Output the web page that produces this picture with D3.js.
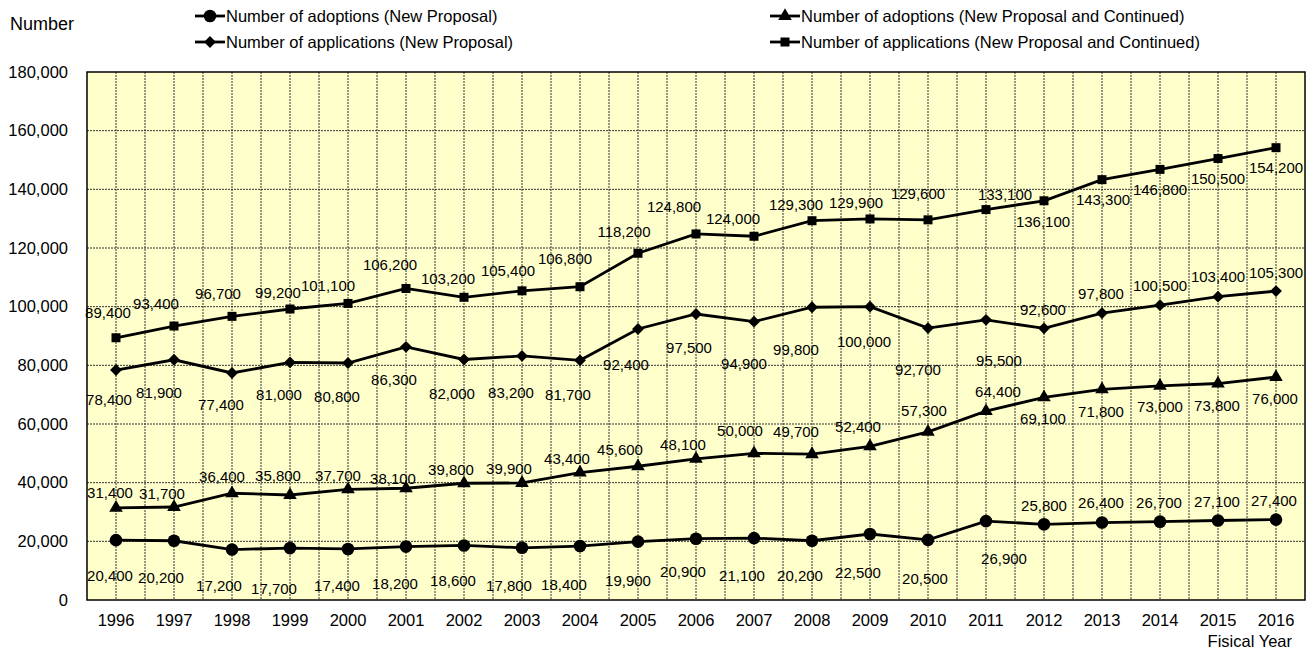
<!DOCTYPE html>
<html>
<head>
<meta charset="utf-8">
<script src="https://cdn.jsdelivr.net/npm/d3@7"></script>
<style>
  body { margin: 0; background: #fff; }
  svg { display: block; font-family: "Liberation Sans", Arial, sans-serif; }
  .grid line { stroke: #333; stroke-width: 1; stroke-dasharray: 2,1; }
  .axis text { font-size: 16.5px; fill: #000; }
  .label { font-size: 15px; fill: #000; }
</style>
</head>
<body>
<div id="chart"></div>
<script>
const years = ['1996', '1997', '1998', '1999', '2000', '2001', '2002', '2003', '2004', '2005', '2006',
  '2007', '2008', '2009', '2010', '2011', '2012', '2013', '2014', '2015', '2016'];

const adoptionsNew = [20400, 20200, 17200, 17700, 17400, 18200, 18600, 17800, 18400, 19900, 20900,
  21100, 20200, 22500, 20500, 26900, 25800, 26400, 26700, 27100, 27400];
const adoptionsAll = [31400, 31700, 36400, 35800, 37700, 38100, 39800, 39900, 43400, 45600, 48100,
  50000, 49700, 52400, 57300, 64400, 69100, 71800, 73000, 73800, 76000];
const applicationsNew = [78400, 81900, 77400, 81000, 80800, 86300, 82000, 83200, 81700, 92400, 97500,
  94900, 99800, 100000, 92700, 95500, 92600, 97800, 100500, 103400, 105300];
const applicationsAll = [89400, 93400, 96700, 99200, 101100, 106200, 103200, 105400, 106800, 118200, 124800,
  124000, 129300, 129900, 129600, 133100, 136100, 143300, 146800, 150500, 154200];

const yTicks = [0, 20000, 40000, 60000, 80000, 100000, 120000, 140000, 160000, 180000];

// label offsets from each marker [dx, dy], placed by hand like the original
const offsetsAdoptionsNew = [[-6,35],[-13,37],[-13,36],[-16,40],[-11,37],[-11,37],[-11,35],[-13,38],[-16,38],[-10,39],[-13,33],
  [-12,37],[-12,35],[-12,38],[-3,39],[18,37],[0,-19],[-1,-20],[-1,-19],[-1,-19],[-2,-19]];
const offsetsAdoptionsAll = [[-6,-15],[-12,-14],[-10,-17],[-12,-19],[-10,-14],[-13,-10],[-13,-14],[-13,-14],[-13,-14],[-18,-17],[-13,-14],
  [-14,-23],[-16,-23],[-12,-20],[-4,-21],[12,-20],[-1,21],[-1,22],[0,21],[-1,22],[-1,21]];
const offsetsApplicationsNew = [[-7,29],[-15,33],[-11,32],[-11,32],[-11,34],[-12,33],[-12,34],[-11,37],[-12,34],[-12,36],[-7,33],
  [-10,42],[-16,42],[-6,35],[-10,41],[13,41],[-1,-19],[-1,-20],[0,-20],[0,-20],[0,-19]];
const offsetsApplicationsAll = [[-8,-25],[-18,-23],[-14,-23],[-12,-17],[-20,-18],[-16,-24],[-16,-19],[-14,-20],[-15,-28],[-14,-22],[-22,-27],
  [-21,-18],[-16,-16],[-14,-16],[-10,-26],[19,-15],[-1,21],[1,20],[0,20],[0,20],[0,20]];

const series = [
  { name: 'Number of adoptions (New Proposal)', values: adoptionsNew, offsets: offsetsAdoptionsNew, symbol: 'circle' },
  { name: 'Number of adoptions (New Proposal and Continued)', values: adoptionsAll, offsets: offsetsAdoptionsAll, symbol: 'triangle' },
  { name: 'Number of applications (New Proposal)', values: applicationsNew, offsets: offsetsApplicationsNew, symbol: 'diamond' },
  { name: 'Number of applications (New Proposal and Continued)', values: applicationsAll, offsets: offsetsApplicationsAll, symbol: 'square' }
];

const width = 1311, height = 652;
const plot = { left: 87, right: 1305, top: 72, bottom: 600 };

const svg = d3.select('#chart').append('svg')
  .attr('width', width)
  .attr('height', height);

const xScale = d3.scaleBand().domain(years).range([plot.left, plot.right]).padding(0);
const yScale = d3.scaleLinear().domain([0, 180000]).range([plot.bottom, plot.top]);
const xMid = d => xScale(d) + xScale.bandwidth() / 2;

function markerPath(kind) {
  if (kind === 'circle') return d3.symbol(d3.symbolCircle, 125)();
  if (kind === 'triangle') return d3.symbol(d3.symbolTriangle, 80)();
  if (kind === 'square') return d3.symbol(d3.symbolSquare, 81)();
  return d3.symbol(d3.symbolSquare, 70)();
}
const markerRotate = kind => kind === 'diamond' ? ' rotate(45)' : '';

// plot background
svg.append('rect')
  .attr('x', plot.left).attr('y', plot.top)
  .attr('width', plot.right - plot.left).attr('height', plot.bottom - plot.top)
  .attr('fill', '#ffffcc');

// vertical grid at band edges and band centres
const vLines = [];
years.forEach(y => { vLines.push(xScale(y)); vLines.push(xMid(y)); });
svg.append('g').attr('class', 'grid')
  .selectAll('line').data(vLines.slice(1)).join('line')
  .attr('x1', d => d).attr('x2', d => d)
  .attr('y1', plot.top).attr('y2', plot.bottom);

svg.append('g').attr('class', 'grid')
  .selectAll('line').data(yTicks.slice(1, -1)).join('line')
  .attr('x1', plot.left).attr('x2', plot.right)
  .attr('y1', d => yScale(d)).attr('y2', d => yScale(d));

svg.append('rect')
  .attr('x', plot.left).attr('y', plot.top)
  .attr('width', plot.right - plot.left).attr('height', plot.bottom - plot.top)
  .attr('fill', 'none').attr('stroke', '#000').attr('stroke-width', 1.5);

// axes
const yAxis = svg.append('g').attr('class', 'axis')
  .attr('transform', `translate(${plot.left},0)`)
  .call(d3.axisLeft(yScale).tickValues(yTicks).tickSize(0).tickPadding(19).tickFormat(d3.format(',')));
yAxis.select('.domain').remove();

const xAxis = svg.append('g').attr('class', 'axis')
  .attr('transform', `translate(0,${plot.bottom})`)
  .call(d3.axisBottom(xScale).tickSize(0).tickPadding(14));
xAxis.select('.domain').remove();

svg.append('text').attr('x', 10).attr('y', 30)
  .style('font-size', '18px').text('Number');
svg.append('text').attr('x', 1292).attr('y', 647)
  .attr('text-anchor', 'end').style('font-size', '16.5px').text('Fisical Year');

// lines, markers and value labels
const line = d3.line().x((d, i) => xMid(years[i])).y(d => yScale(d));

series.forEach(s => {
  const g = svg.append('g');
  g.append('path')
    .datum(s.values)
    .attr('fill', 'none')
    .attr('stroke', '#000')
    .attr('stroke-width', 2.8)
    .attr('d', line);
  g.selectAll('path.marker').data(s.values).join('path')
    .attr('class', 'marker')
    .attr('d', markerPath(s.symbol))
    .attr('transform', (d, i) => `translate(${xMid(years[i])},${yScale(d)})${markerRotate(s.symbol)}`)
    .attr('fill', '#000');
  g.selectAll('text').data(s.values).join('text')
    .attr('class', 'label')
    .attr('x', (d, i) => xMid(years[i]) + s.offsets[i][0])
    .attr('y', (d, i) => yScale(d) + s.offsets[i][1])
    .attr('text-anchor', 'middle')
    .attr('dominant-baseline', 'central')
    .text(d3.format(','));
});

// legend
const legendPos = [[195, 16], [770, 16], [195, 42], [770, 42]];
series.forEach((s, i) => {
  const [lx, ly] = legendPos[i];
  const g = svg.append('g').attr('transform', `translate(${lx},${ly})`);
  g.append('line').attr('x1', 0).attr('x2', 30).attr('stroke', '#000').attr('stroke-width', 2.8);
  g.append('path').attr('d', markerPath(s.symbol))
    .attr('transform', `translate(15,0)${markerRotate(s.symbol)}`).attr('fill', '#000');
  g.append('text').attr('x', 31).attr('dominant-baseline', 'central')
    .style('font-size', '16.5px').text(s.name);
});
</script>
</body>
</html>
